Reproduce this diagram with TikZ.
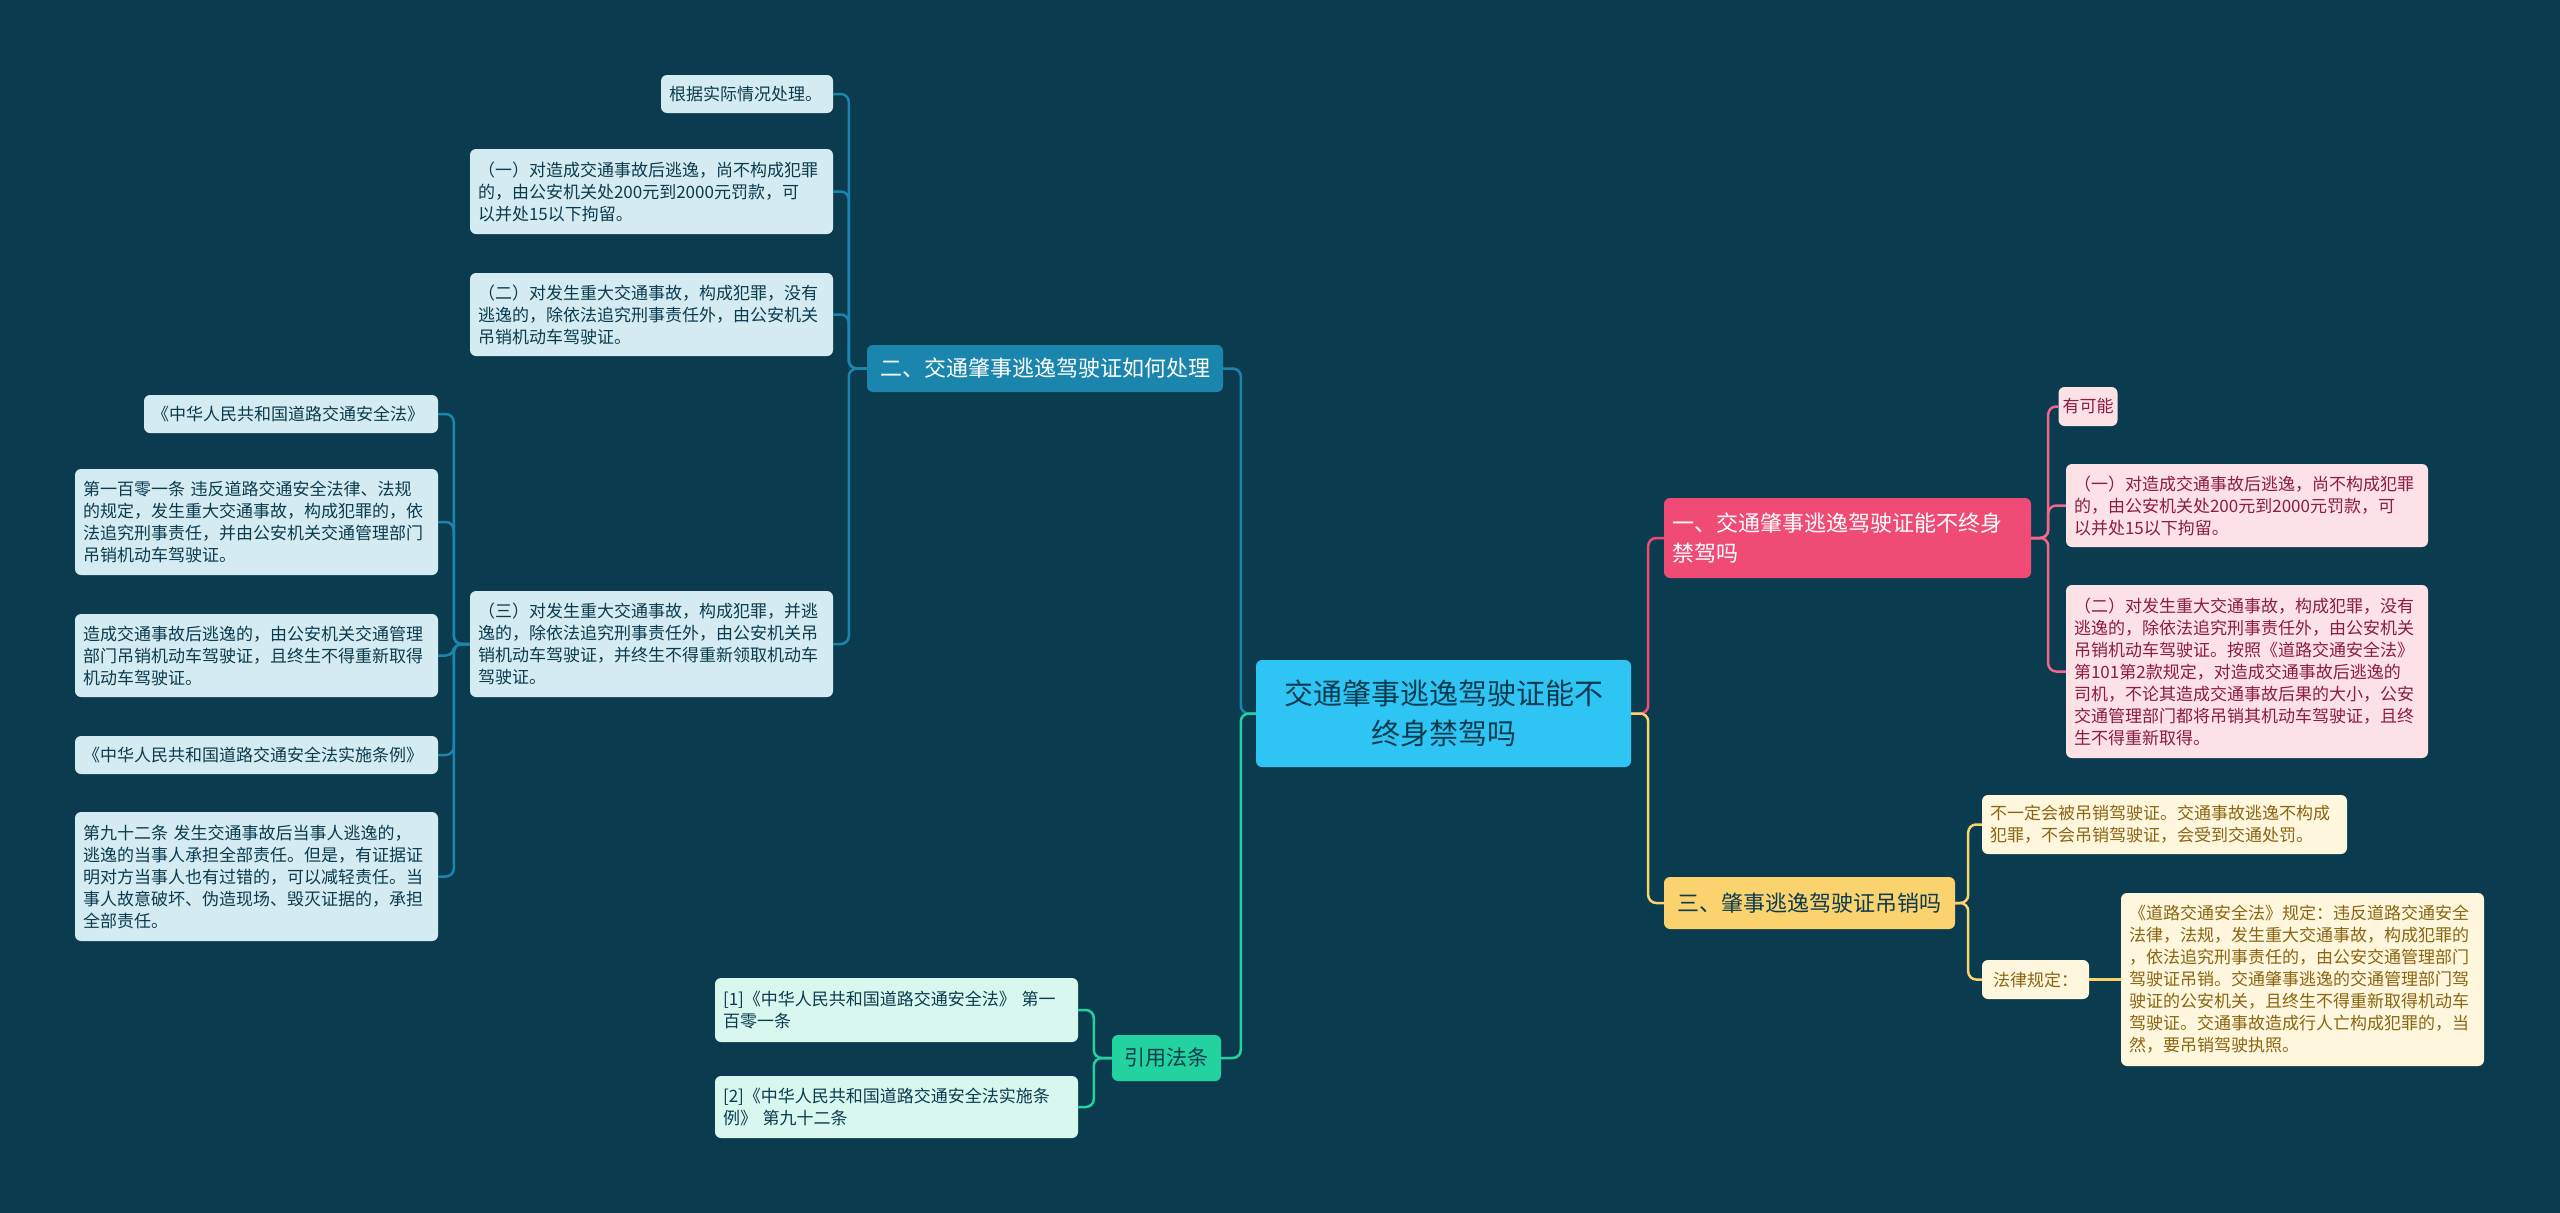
\documentclass[tikz,border=0pt]{standalone}
\usepackage{fontspec}
\newfontfamily\cjk{Noto Sans CJK SC}
\definecolor{bgc}{HTML}{0B3B4F}
\definecolor{rootc}{HTML}{2EC5F5}
\definecolor{bluec}{HTML}{1A85AD}
\definecolor{bluel}{HTML}{D5EBF2}
\definecolor{greenc}{HTML}{22D3A0}
\definecolor{greenl}{HTML}{D8F7EE}
\definecolor{pinkc}{HTML}{EF4B74}
\definecolor{pinkl}{HTML}{FCE1E7}
\definecolor{pinkt}{HTML}{8B1D3E}
\definecolor{yelc}{HTML}{FBD36E}
\definecolor{yell}{HTML}{FEF6DD}
\definecolor{yelt}{HTML}{8A6512}
\tikzset{
  box/.style={rounded corners=6pt, inner sep=8pt, align=left, font=\cjk\fontsize{17}{22}\selectfont},
  rootbox/.style={box, fill=rootc, text=bgc, align=center, font=\cjk\fontsize{29}{40}\selectfont},
  bluehead/.style={box, fill=bluec, text=white, font=\cjk\fontsize{22}{28}\selectfont},
  bluenote/.style={box, fill=bluel, text=bgc},
  greenhead/.style={box, fill=greenc, text=bgc, font=\cjk\fontsize{21}{28}\selectfont},
  greennote/.style={box, fill=greenl, text=bgc},
  pinkhead/.style={box, fill=pinkc, text=white, font=\cjk\fontsize{22}{30}\selectfont},
  pinknote/.style={box, fill=pinkl, text=pinkt},
  yelhead/.style={box, fill=yelc, text=bgc, font=\cjk\fontsize{22}{28}\selectfont},
  yelnote/.style={box, fill=yell, text=yelt},
  link/.style={line width=2.5pt, rounded corners=8pt}
}
\begin{document}
\begin{tikzpicture}[x=1pt, y=-1pt]
    \fill[bgc] (0,0) rectangle (2560,1213);
    \useasboundingbox (0,0) rectangle (2560,1213);

    % Mitte
    \node[rootbox, minimum width=375pt, minimum height=107pt] (root) at (1443.5,713.5) {交通肇事逃逸驾驶证能不\\终身禁驾吗};

    % zweiter Ast
    \node[bluehead, minimum width=356pt, minimum height=47pt] (how) at (1045,368.5) {二、交通肇事逃逸驾驶证如何处理};
    \node[bluenote, text width=156pt, minimum height=38pt] (how1) at (747,94) {根据实际情况处理。};
    \node[bluenote, text width=347pt, minimum height=85pt] (how2) at (651.5,191.5) {（一）对造成交通事故后逃逸，尚不构成犯罪\\的，由公安机关处200元到2000元罚款，可\\以并处15以下拘留。};
    \node[bluenote, text width=347pt, minimum height=83pt] (how3) at (651.5,314.5) {（二）对发生重大交通事故，构成犯罪，没有\\逃逸的，除依法追究刑事责任外，由公安机关\\吊销机动车驾驶证。};
    \node[bluenote, text width=347pt, minimum height=106pt] (how4) at (651.5,644) {（三）对发生重大交通事故，构成犯罪，并逃\\逸的，除依法追究刑事责任外，由公安机关吊\\销机动车驾驶证，并终生不得重新领取机动车\\驾驶证。};
    \node[bluenote, text width=278pt, minimum height=38pt] (law1) at (291,414) {《中华人民共和国道路交通安全法》};
    \node[bluenote, text width=347pt, minimum height=106pt] (law2) at (256.5,522) {第一百零一条 违反道路交通安全法律、法规\\的规定，发生重大交通事故，构成犯罪的，依\\法追究刑事责任，并由公安机关交通管理部门\\吊销机动车驾驶证。};
    \node[bluenote, text width=347pt, minimum height=83pt] (law3) at (256.5,655.5) {造成交通事故后逃逸的，由公安机关交通管理\\部门吊销机动车驾驶证，且终生不得重新取得\\机动车驾驶证。};
    \node[bluenote, text width=347pt, minimum height=38pt] (law4) at (256.5,755) {《中华人民共和国道路交通安全法实施条例》};
    \node[bluenote, text width=347pt, minimum height=129pt] (law5) at (256.5,876.5) {第九十二条 发生交通事故后当事人逃逸的，\\逃逸的当事人承担全部责任。但是，有证据证\\明对方当事人也有过错的，可以减轻责任。当\\事人故意破坏、伪造现场、毁灭证据的，承担\\全部责任。};

    % Quellen
    \node[greenhead, minimum width=109pt, minimum height=46pt] (ref) at (1166.5,1058) {引用法条};
    \node[greennote, text width=347pt, minimum height=64pt] (ref1) at (896.5,1010) {[1]《中华人民共和国道路交通安全法》 第一\\百零一条};
    \node[greennote, text width=347pt, minimum height=62pt] (ref2) at (896.5,1107) {[2]《中华人民共和国道路交通安全法实施条\\例》 第九十二条};

    % erster Ast
    \node[pinkhead, text width=351pt, minimum height=80pt] (ban) at (1847.5,538) {一、交通肇事逃逸驾驶证能不终身\\禁驾吗};
    \node[pinknote, minimum width=44pt, minimum height=39pt, inner sep=4pt] (ban1) at (2088,406.5) {有可能};
    \node[pinknote, text width=346pt, minimum height=83pt] (ban2) at (2247,505.5) {（一）对造成交通事故后逃逸，尚不构成犯罪\\的，由公安机关处200元到2000元罚款，可\\以并处15以下拘留。};
    \node[pinknote, text width=346pt, minimum height=173pt] (ban3) at (2247,671.5) {（二）对发生重大交通事故，构成犯罪，没有\\逃逸的，除依法追究刑事责任外，由公安机关\\吊销机动车驾驶证。按照《道路交通安全法》\\第101第2款规定，对造成交通事故后逃逸的\\司机，不论其造成交通事故后果的大小，公安\\交通管理部门都将吊销其机动车驾驶证，且终\\生不得重新取得。};

    % dritter Ast
    \node[yelhead, minimum width=291pt, minimum height=52pt] (rev) at (1809.5,903) {三、肇事逃逸驾驶证吊销吗};
    \node[yelnote, text width=349pt, minimum height=59pt] (rev1) at (2164.5,824.5) {不一定会被吊销驾驶证。交通事故逃逸不构成\\犯罪，不会吊销驾驶证，会受到交通处罚。};
    \node[yelnote, minimum width=107pt, minimum height=39pt] (rev2) at (2035.5,979.5) {法律规定：};
    \node[yelnote, text width=347pt, minimum height=173pt] (rev3) at (2302.5,979.5) {《道路交通安全法》规定：违反道路交通安全\\法律，法规，发生重大交通事故，构成犯罪的\\，依法追究刑事责任的，由公安交通管理部门\\驾驶证吊销。交通肇事逃逸的交通管理部门驾\\驶证的公安机关，且终生不得重新取得机动车\\驾驶证。交通事故造成行人亡构成犯罪的，当\\然，要吊销驾驶执照。};

    % Verbindungen
    \draw[link, bluec] (root.west) -- ++(-15,0) |- (how.east);
    \draw[link, greenc] (root.west) -- ++(-15,0) |- (ref.east);
    \draw[link, pinkc] (root.east) -- ++(17,0) |- (ban.west);
    \draw[link, yelc] (root.east) -- ++(17,0) |- (rev.west);

    \foreach \n in {how1,how2,how3,how4}
        \draw[link, bluec] (how.west) -- ++(-18,0) |- (\n.east);
    \foreach \n in {law1,law2,law3,law4,law5}
        \draw[link, bluec] (how4.west) -- ++(-16,0) |- (\n.east);
    \foreach \n in {ref1,ref2}
        \draw[link, greenc] (ref.west) -- ++(-18,0) |- (\n.east);
    \foreach \n in {ban1,ban2,ban3}
        \draw[link, pinkc!85!white] (ban.east) -- ++(17,0) |- (\n.west);
    \foreach \n in {rev1,rev2}
        \draw[link, yelc] (rev.east) -- ++(13,0) |- (\n.west);
    \draw[link, yelc] (rev2.east) -- (rev3.west);
\end{tikzpicture}
\end{document}
